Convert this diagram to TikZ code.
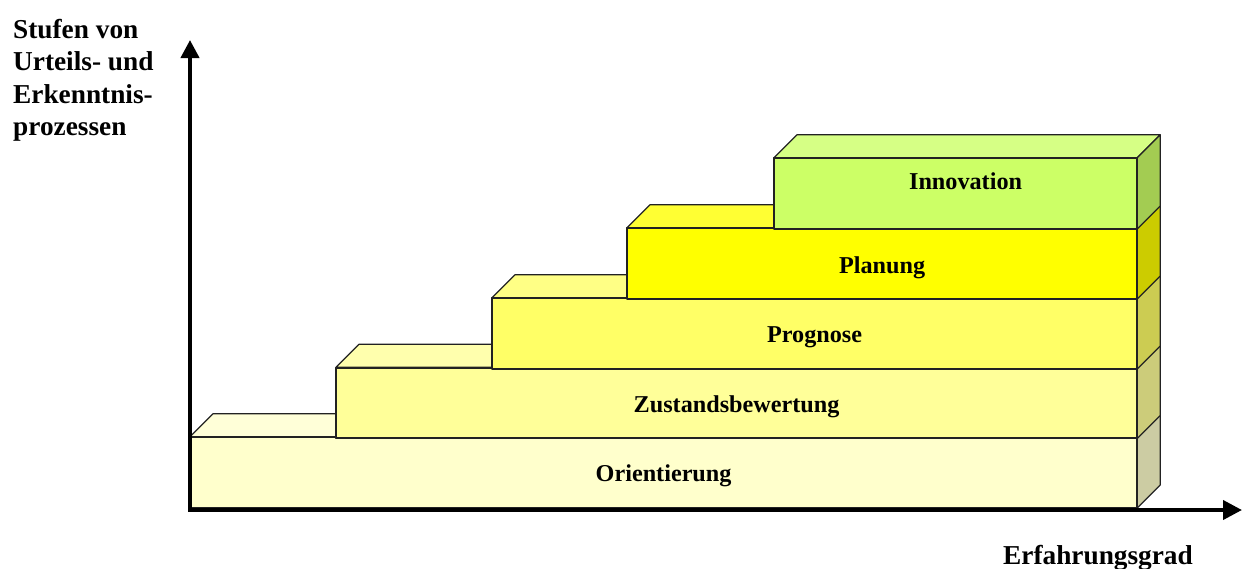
\documentclass[tikz,border=0pt]{standalone}
\usepackage{fontspec}
\setmainfont{Liberation Serif}
\usetikzlibrary{arrows.meta}

% face colours of the five steps: front, top (lighter), side (darker)
\definecolor{orF}{HTML}{FFFFCC}\definecolor{orT}{HTML}{FFFFD8}\definecolor{orS}{HTML}{CCCCA3}
\definecolor{zuF}{HTML}{FFFF99}\definecolor{zuT}{HTML}{FFFFAD}\definecolor{zuS}{HTML}{CCCC7A}
\definecolor{prF}{HTML}{FFFF66}\definecolor{prT}{HTML}{FFFF85}\definecolor{prS}{HTML}{CCCC52}
\definecolor{plF}{HTML}{FFFF00}\definecolor{plT}{HTML}{FFFF33}\definecolor{plS}{HTML}{CCCC00}
\definecolor{inF}{HTML}{CCFF66}\definecolor{inT}{HTML}{D6FF85}\definecolor{inS}{HTML}{A3CC52}
\definecolor{edge}{HTML}{222222}

\tikzset{
  face/.style={draw=edge, line width=1.2pt, line join=round},
  front/.style={face, inner sep=0pt, anchor=south west, minimum height=70pt},
  lbl/.style={font=\fontsize{24.2}{28}\selectfont\bfseries, inner sep=0pt},
  axislbl/.style={font=\fontsize{27.3}{32.3}\selectfont\bfseries, inner sep=0pt, align=left},
  axis/.style={line width=4pt, line join=miter,
    {Triangle[length=18pt,width=18pt]}-{Triangle[length=19pt,width=19pt]}}
}

% one step: front face node, its top face and its right side face
% #1 name, #2 left x, #3 bottom y, #4 colour prefix
\newcommand{\stairblock}[4]{%
  \node[front, fill=#4F, minimum width={1136pt-#2pt}] (#1) at (#2,#3) {};
  \fill[face, fill=#4T] (#1.north west) -- ++(23,-23) -- ([shift={(23,-23)}]#1.north east) -- (#1.north east) -- cycle;
  \fill[face, fill=#4S] (#1.north east) -- ++(23,-23) -- ([shift={(23,-23)}]#1.south east) -- (#1.south east) -- cycle;
  \draw[face] (#1.south west) rectangle (#1.north east);
}

\begin{document}
\begin{tikzpicture}[x=1pt,y=-1pt]
  \useasboundingbox (0,0) rectangle (1242,568);

  \stairblock{orient}{190}{508}{or}
  \stairblock{zustand}{336}{438.5}{zu}
  \stairblock{prog}{492}{369}{pr}
  \stairblock{plan}{627}{299}{pl}
  \stairblock{inno}{774}{229}{in}

  \node[lbl] (lorient) at ([yshift=-3pt]orient.center) {Orientierung};
  \node[lbl] (lzustand) at ([yshift=-4pt]zustand.center) {Zustandsbewertung};
  \node[lbl] (lprog) at ([yshift=-4pt]prog.center) {Prognose};
  \node[lbl] (lplan) at ([yshift=-4pt]plan.center) {Planung};
  \node[lbl] (linno) at ([xshift=10pt,yshift=12pt]inno.center) {Innovation};

  % axes
  \coordinate (ytip) at (190,40);
  \coordinate (origin) at (190,510);
  \coordinate (xtip) at (1242,510);
  \draw[axis] (ytip) -- (origin) -- (xtip);

  \node[axislbl, anchor=north west] (ylabel) at (13,19)
    {Stufen von\\Urteils- und\\Erkenntnis-\\prozessen};
  \node[axislbl, anchor=base west] (xlabel) at (1003,564) {Erfahrungsgrad};
\end{tikzpicture}
\end{document}
